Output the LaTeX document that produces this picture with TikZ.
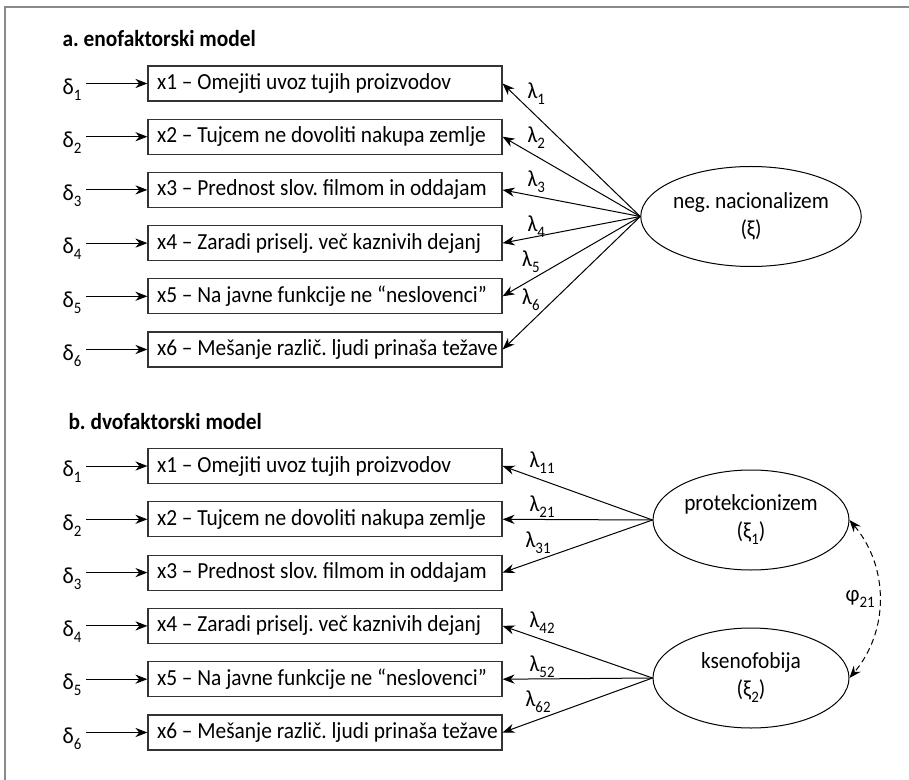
\documentclass[tikz,border=0pt]{standalone}
\usepackage{fontspec}
\setmainfont{Carlito}[FakeStretch=0.93]
\usetikzlibrary{arrows.meta,shapes.geometric}
\frenchspacing
\definecolor{frameColor}{HTML}{8A8A8A}
\definecolor{boxColor}{HTML}{333333}
\newcommand{\fs}{\fontsize{11.5}{14}\selectfont}
\newcommand{\lo}[1]{\raisebox{-3pt}{\fontsize{8}{8}\selectfont #1}}
\newcommand{\itm}[1]{\makebox[168pt][l]{#1}}
\tikzset{
	item/.style={draw=boxColor, line width=0.6pt, inner xsep=4.5pt, inner ysep=0pt,
		minimum height=17.5pt, font=\fs},
	factor/.style={draw, ellipse, line width=0.5pt, minimum width=98pt, minimum height=50pt,
		inner sep=0pt, align=center, font=\fs, execute at begin node=\rule{0pt}{14pt}},
	err/.style={inner sep=2pt, font=\fs},
	load/.style={inner sep=0.5pt, font=\fs},
	head/.style={anchor=base west, inner sep=0pt, font=\fs\bfseries}
}

\begin{document}
\begin{tikzpicture}[x=0.5pt, y=-0.5pt, ->, >={Stealth[length=6pt,width=4.6pt]}, line width=0.5pt]
	\useasboundingbox (0,0) rectangle (909,780);
	\draw[-, frameColor, line width=1pt] (5,780) -- (5,7) -- (909,7);
	
	% a. one factor
	\node[head] (ta) at (62,47) {a. enofaktorski model};
	\node[item] (x1a) at (325,83.5) {\itm{x1 – Omejiti uvoz tujih proizvodov}};
	\node[item] (x2a) at (325,136.7) {\itm{x2 – Tujcem ne dovoliti nakupa zemlje}};
	\node[item] (x3a) at (325,189.9) {\itm{x3 – Prednost slov. filmom in oddajam}};
	\node[item] (x4a) at (325,243.1) {\itm{x4 – Zaradi priselj. več kaznivih dejanj}};
	\node[item] (x5a) at (325,296.3) {\itm{x5 – Na javne funkcije ne “neslovenci”}};
	\node[item] (x6a) at (325,349.5) {\itm{x6 – Mešanje različ. ljudi prinaša težave}};
	\node[factor] (fa) at (751,216.5) {neg. nacionalizem\\(ξ)};
	
	\node[err] (d1a) at (72,89.5) {δ\lo{1}};
	\node[err] (d2a) at (72,142.7) {δ\lo{2}};
	\node[err] (d3a) at (72,195.9) {δ\lo{3}};
	\node[err] (d4a) at (72,249.1) {δ\lo{4}};
	\node[err] (d5a) at (72,302.3) {δ\lo{5}};
	\node[err] (d6a) at (72,355.5) {δ\lo{6}};
	
	\draw (d1a.east |- x1a) -- (x1a);
	\draw (d2a.east |- x2a) -- (x2a);
	\draw (d3a.east |- x3a) -- (x3a);
	\draw (d4a.east |- x4a) -- (x4a);
	\draw (d5a.east |- x5a) -- (x5a);
	\draw (d6a.east |- x6a) -- (x6a);
	
	\path (fa.west) edge node[load, pos=.83, anchor=south west] {λ\lo{1}} (x1a.east);
	\path (fa.west) edge node[load, pos=.83, anchor=south west] {λ\lo{2}} (x2a.east);
	\path (fa.west) edge node[load, pos=.83, anchor=south west] {λ\lo{3}} (x3a.east);
	\path (fa.west) edge node[load, pos=.83, anchor=south west] {λ\lo{4}} (x4a.east);
	\path (fa.west) edge node[load, pos=.72, anchor=south east] {λ\lo{5}} (x5a.east);
	\path (fa.west) edge node[load, pos=.72, anchor=south east] {λ\lo{6}} (x6a.east);
	
	% b. two factors
	\node[head] (tb) at (68,429) {b. dvofaktorski model};
	\node[item] (x1b) at (325,466) {\itm{x1 – Omejiti uvoz tujih proizvodov}};
	\node[item] (x2b) at (325,519.3) {\itm{x2 – Tujcem ne dovoliti nakupa zemlje}};
	\node[item] (x3b) at (325,572.6) {\itm{x3 – Prednost slov. filmom in oddajam}};
	\node[item] (x4b) at (325,625.9) {\itm{x4 – Zaradi priselj. več kaznivih dejanj}};
	\node[item] (x5b) at (325,679.2) {\itm{x5 – Na javne funkcije ne “neslovenci”}};
	\node[item] (x6b) at (325,732.5) {\itm{x6 – Mešanje različ. ljudi prinaša težave}};
	\node[factor] (f1b) at (751,520) {protekcionizem\\(ξ\lo{1})};
	\node[factor] (f2b) at (751,678) {ksenofobija\\(ξ\lo{2})};
	
	\node[err] (d1b) at (72,472) {δ\lo{1}};
	\node[err] (d2b) at (72,525.3) {δ\lo{2}};
	\node[err] (d3b) at (72,578.6) {δ\lo{3}};
	\node[err] (d4b) at (72,631.9) {δ\lo{4}};
	\node[err] (d5b) at (72,685.2) {δ\lo{5}};
	\node[err] (d6b) at (72,738.5) {δ\lo{6}};
	
	\draw (d1b.east |- x1b) -- (x1b);
	\draw (d2b.east |- x2b) -- (x2b);
	\draw (d3b.east |- x3b) -- (x3b);
	\draw (d4b.east |- x4b) -- (x4b);
	\draw (d5b.east |- x5b) -- (x5b);
	\draw (d6b.east |- x6b) -- (x6b);
	
	\path (f1b.west) edge node[load, pos=.83, anchor=south west] {λ\lo{11}} (x1b.east);
	\path (f1b.west) edge node[load, pos=.83, anchor=south west] {λ\lo{21}} (x2b.east);
	\path (f1b.west) edge node[load, pos=.67, anchor=south east] {λ\lo{31}} (x3b.east);
	\path (f2b.west) edge node[load, pos=.83, anchor=south west] {λ\lo{42}} (x4b.east);
	\path (f2b.west) edge node[load, pos=.83, anchor=south west] {λ\lo{52}} (x5b.east);
	\path (f2b.west) edge node[load, pos=.67, anchor=south east] {λ\lo{62}} (x6b.east);
	
	\draw[<->, dash pattern=on 3pt off 2pt] (f1b.east) to[bend left=40] node[load, left, inner sep=2pt] {φ\lo{21}} (f2b.east);
\end{tikzpicture}
\end{document}
